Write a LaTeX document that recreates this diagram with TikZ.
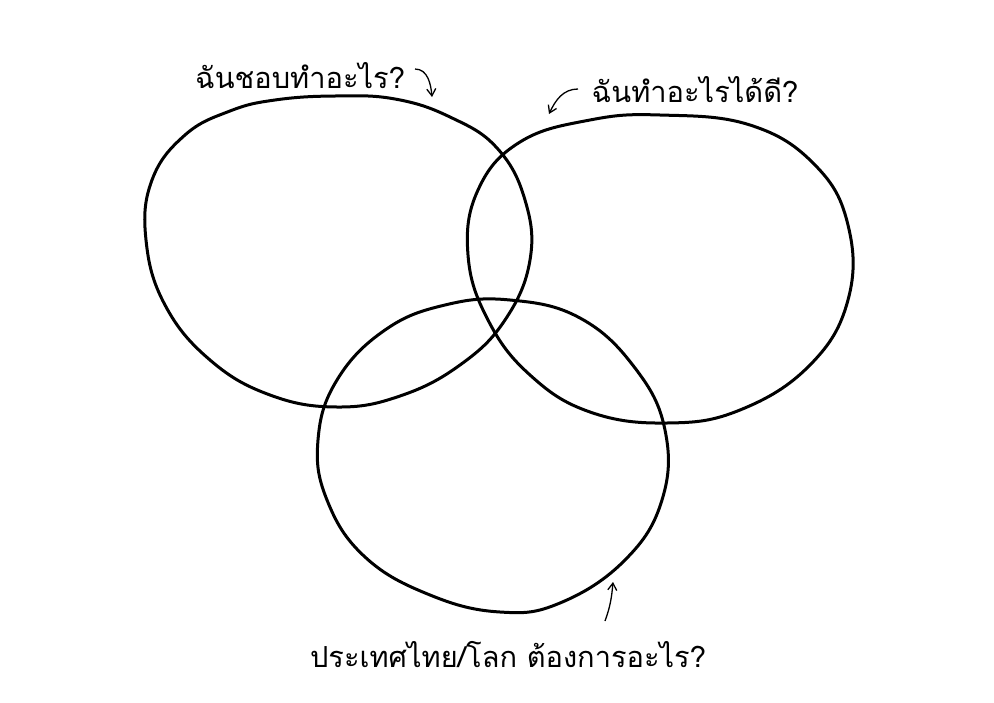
\documentclass[tikz,border=0pt]{standalone}
\usepackage{fontspec}
\newfontfamily\thaifont[Script=Thai]{Loma}
\usetikzlibrary{arrows.meta}
\begin{document}
\begin{tikzpicture}[x=1pt,y=-1pt,
  blob/.style={line width=3pt, line join=round},
  hint/.style={line width=1.3pt, -{Straight Barb[length=7pt,width=9pt]}},
  question/.style={font=\thaifont\fontsize{29}{33}\selectfont, inner sep=0pt}]
\useasboundingbox [fill=white] (0,0) rectangle (994,702); % page as big as the reference

% top left: what I like
\draw [blob] plot [smooth cycle, tension=0.7] coordinates {
  (275,100) (335,96) (395,99) (450,117) (497,148) (525,200) (530,260)
  (505,320) (460,365) (400,396) (337,407) (270,395) (210,360) (165,305)
  (146,240) (152,180) (185,135) (230,111)};
% right: what I am good at
\draw [blob] plot [smooth cycle, tension=0.7] coordinates {
  (660,115) (750,125) (815,165) (848,225) (848,300) (810,365) (740,410)
  (667,423) (590,412) (530,375) (488,320) (468,255) (478,190) (520,142)
  (590,120)};
% bottom: what the country needs
\draw [blob] plot [smooth cycle, tension=0.7] coordinates {
  (510,300) (580,318) (635,368) (665,430) (662,500) (625,560) (560,603)
  (500,612) (430,595) (365,557) (327,500) (318,440) (337,380) (385,330)
  (445,305)};

\node [question] (like) at (300,76) {ฉันชอบทำอะไร?};
\node [question] (good) at (695,90) {ฉันทำอะไรได้ดี?};
\node [question] (need) at (508,655) {ประเทศไทย/โลก ต้องการอะไร?};

\coordinate (likeend) at (432,97);
\coordinate (goodend) at (549,114);
\coordinate (needend) at (613,582);

\draw [hint] (415,69) to [out=0,in=95] (likeend);
\draw [hint] (578,89) to [out=180,in=65] (goodend);
\draw [hint] (605,621) to [out=70,in=-95] (needend);
\end{tikzpicture}
\end{document}
